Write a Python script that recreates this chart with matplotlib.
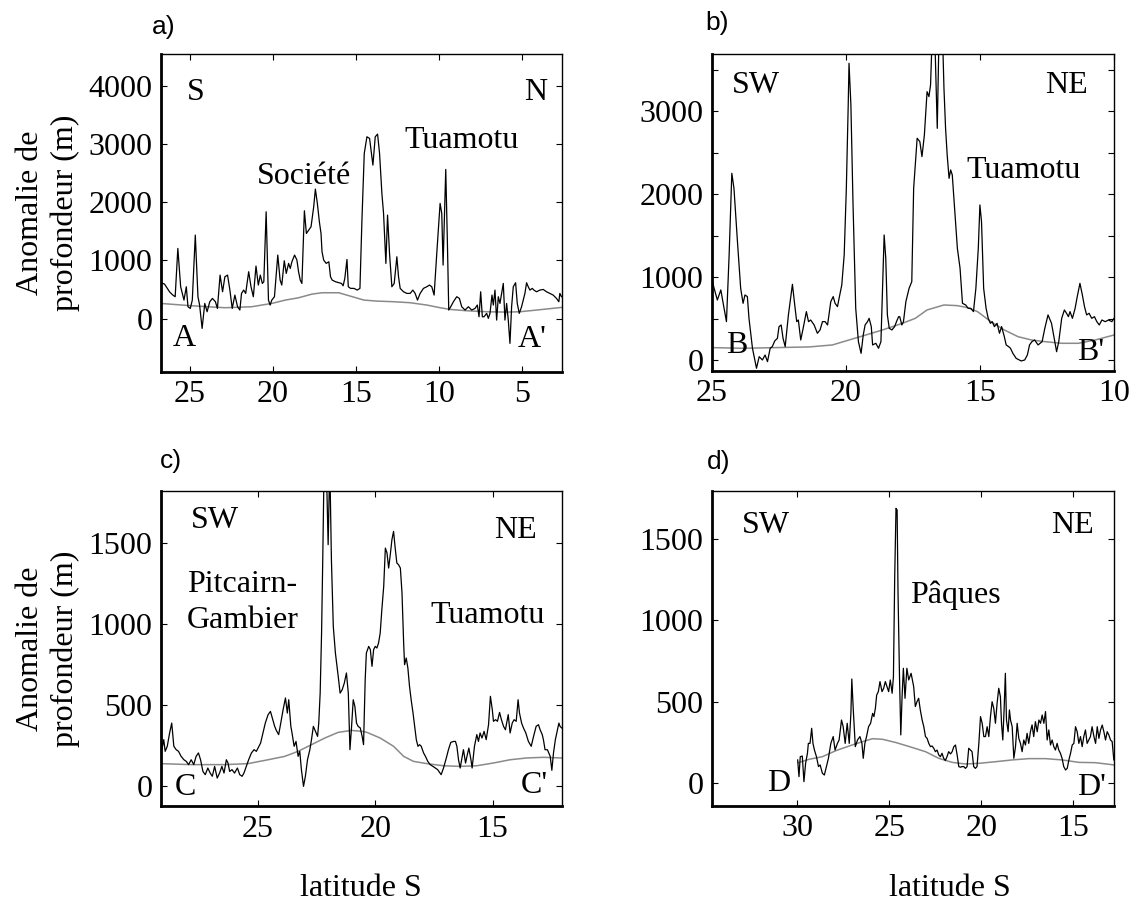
import matplotlib
matplotlib.use("Agg")
import matplotlib.pyplot as plt

# ---------------- data (latitude S, depth anomaly in m) ----------------
a_lat = [26.75, 26.51, 26.21, 26.01, 25.87, 25.71, 25.54, 25.34, 25.20, 25.10, 24.96, 24.84, 24.66,
         24.50, 24.40, 24.25, 24.09, 23.95, 23.79, 23.63, 23.45, 23.33, 23.17, 23.02, 22.88, 22.72,
         22.58, 22.44, 22.28, 22.12, 21.98, 21.88, 21.75, 21.63, 21.45, 21.31, 21.17, 21.01, 20.87,
         20.75, 20.63, 20.54, 20.40, 20.26, 20.16, 20.06, 19.90, 19.70, 19.56, 19.46, 19.31, 19.19,
         19.05, 18.95, 18.85, 18.69, 18.55, 18.45, 18.35, 18.25, 18.10, 17.98, 17.84, 17.70, 17.54,
         17.44, 17.32, 17.20, 17.10, 17.04, 16.94, 16.79, 16.63, 16.53, 16.43, 16.23, 16.03, 15.87,
         15.77, 15.67, 15.54, 15.46, 15.32, 15.12, 14.92, 14.76, 14.64, 14.50, 14.34, 14.18, 13.98,
         13.84, 13.70, 13.58, 13.44, 13.34, 13.20, 13.10, 12.98, 12.84, 12.70, 12.54, 12.44, 12.34,
         12.14, 11.94, 11.74, 11.58, 11.44, 11.30, 11.14, 10.94, 10.74, 10.58, 10.44, 10.30, 10.14,
         9.94, 9.84, 9.76, 9.60, 9.50, 9.42, 9.30, 9.14, 8.94, 8.78, 8.64, 8.44, 8.24, 8.04, 7.84,
         7.70, 7.60, 7.50, 7.40, 7.30, 7.14, 7.04, 6.94, 6.82, 6.74, 6.64, 6.54, 6.44, 6.34, 6.24,
         6.14, 6.04, 5.94, 5.84, 5.74, 5.64, 5.54, 5.40, 5.30, 5.18, 5.04, 4.94, 4.84, 4.74, 4.64,
         4.54, 4.40, 4.30, 4.14, 3.94, 3.74, 3.54, 3.34, 3.14, 2.94, 2.80, 2.74, 2.64]
a_val = [623, 595, 463, 406, 378, 1207, 549, 320, 549, 206, 177, 320, 1436,
         378, 235, -166, 263, 120, 292, 349, 292, 177, 749, 463, 721, 749,
         492, 177, 406, 206, 149, 435, 492, 435, 807, 549, 378, 904, 578,
         749, 606, 635, 1836, 320, 235, 320, 378, 1093, 664, 578, 995, 778,
         950, 864, 978, 1093, 1007, 807, 664, 606, 1853, 1464, 1522, 1579, 1922,
         2225, 1979, 1665, 1464, 1150, 1007, 950, 978, 721, 664, 635, 618, 606,
         566, 692, 1018, 549, 521, 521, 492, 521, 1693, 2837, 3123, 3095, 2637,
         3123, 3169, 2837, 2151, 1808, 950, 1779, 1121, 549, 606, 1064, 721, 521,
         463, 435, 435, 492, 435, 320, 435, 521, 549, 578, 549, 406, 1121,
         1979, 1808, 921, 2563, 1293, 149, 206, 292, 378, 349, 206, 149, 206, 149, 177,
         235, 34, 463, 34, 34, 92, 6, 92, 406, 235, 492, -23, 378, 263, 435,
         606, -23, 263, -23, -423, 206, 549, 618, 263, 92, 206, 320, 435, 618, 549,
         492, 521, 492, 463, 492, 503, 463, 435, 406, 349, 292, 435, 378]
a_ref_lat = [26.75, 24.90, 22.88, 21.27, 20.06, 19.25, 18.45, 17.64, 17.04, 16.03, 15.42, 14.52,
             13.74, 12.74, 11.74, 10.74, 9.94, 9.34, 8.34, 7.14, 5.94, 5.14, 4.14, 2.64]
a_ref_val = [263, 223, 189, 206, 263, 320, 360, 423, 446, 446, 395, 320,
             303, 292, 275, 235, 189, 160, 137, 120, 114, 120, 149, 194]

b_lat = [25.00, 24.91, 24.79, 24.66, 24.54, 24.45, 24.35, 24.25, 24.17, 24.04, 23.92, 23.83, 23.76,
         23.67, 23.61, 23.48, 23.33, 23.23, 23.11, 23.01, 22.92, 22.82, 22.74, 22.65, 22.55, 22.49,
         22.41, 22.34, 22.26, 22.14, 21.99, 21.89, 21.83, 21.77, 21.68, 21.59, 21.47, 21.39, 21.31,
         21.18, 21.06, 20.96, 20.87, 20.77, 20.68, 20.56, 20.47, 20.40, 20.31, 20.25, 20.15, 20.06,
         19.98, 19.91, 19.88, 19.81, 19.73, 19.63, 19.53, 19.43, 19.35, 19.28, 19.19, 19.13, 19.05,
         19.00, 18.88, 18.78, 18.69, 18.63, 18.57, 18.51, 18.45, 18.38, 18.28, 18.18, 18.11, 18.03,
         17.99, 17.91, 17.85, 17.76, 17.64, 17.54, 17.47, 17.34, 17.24, 17.16, 17.07, 16.97, 16.90,
         16.84, 16.77, 16.69, 16.59, 16.52, 16.40, 16.34, 16.28, 16.22, 16.15, 16.09, 16.03, 15.96,
         15.84, 15.74, 15.65, 15.53, 15.44, 15.34, 15.24, 15.15, 15.06, 15.00, 14.94, 14.86, 14.77,
         14.69, 14.61, 14.54, 14.46, 14.36, 14.27, 14.19, 14.09, 14.02, 13.93, 13.86, 13.77, 13.65,
         13.46, 13.33, 13.23, 13.15, 13.06, 12.96, 12.83, 12.68, 12.58, 12.46, 12.33, 12.23, 12.14,
         12.06, 11.95, 11.85, 11.77, 11.70, 11.64, 11.55, 11.45, 11.37, 11.27, 11.18, 11.10, 11.02,
         10.93, 10.83, 10.73, 10.64, 10.55, 10.45, 10.33, 10.20, 10.08, 10.00]
b_val = [989, 868, 727, 848, 627, 466, 1270, 2255, 2074, 1431, 868, 687, 788,
         768, 506, 145, -96, 44, 4, 64, -16, 145, 165, 233, 265, 406,
         426, 265, 165, 547, 916, 627, 466, 486, 245, 386, 587, 466, 486,
         426, 326, 366, 466, 466, 426, 707, 768, 687, 647, 748, 908, 1270,
         2074, 3079, 3581, 3079, 1873, 627, 225, 84, 305, 426, 466, 506, 406,
         185, 205, 145, 225, 868, 1511, 1230, 547, 386, 366, 406, 466, 526,
         526, 426, 466, 707, 868, 948, 2074, 2677, 2637, 2456, 2717, 3239, 3179,
         3320, 4000, 4000, 2797, 4000, 4000, 3280, 2797, 2476, 2194, 2295, 2235, 1913,
         1350, 1109, 687, 667, 627, 627, 587, 868, 1350, 1873, 1672, 868, 627,
         506, 446, 466, 406, 446, 326, 406, 285, 185, 165, 145, 84, 24,
         -8, 4, 64, 185, 225, 245, 185, 225, 386, 547, 446, 265, 104,
         225, 506, 607, 567, 526, 587, 506, 627, 768, 928, 788, 647, 547,
         567, 506, 526, 466, 426, 486, 466, 486, 466, 506]
b_ref_lat = [25.00, 23.86, 22.61, 21.37, 20.50, 19.88, 19.38, 18.63, 17.89, 17.41, 16.97, 16.34,
             15.84, 15.46, 15.09, 14.59, 14.09, 13.58, 13.08, 12.58, 11.95, 11.33, 10.70, 10.00]
b_ref_val = [153, 145, 153, 161, 185, 245, 293, 366, 446, 506, 607, 667,
             659, 635, 587, 466, 366, 285, 245, 225, 205, 205, 245, 305]

c_lat = [29.16, 29.10, 29.02, 28.96, 28.87, 28.77, 28.68, 28.59, 28.49, 28.39, 28.28, 28.16, 28.06,
         27.96, 27.85, 27.74, 27.64, 27.54, 27.45, 27.35, 27.25, 27.14, 27.04, 26.95, 26.85, 26.74,
         26.64, 26.54, 26.45, 26.35, 26.28, 26.21, 26.11, 26.00, 25.88, 25.78, 25.68, 25.60, 25.50,
         25.40, 25.28, 25.17, 25.07, 25.00, 24.89, 24.79, 24.69, 24.57, 24.47, 24.40, 24.29, 24.22,
         24.12, 24.03, 23.93, 23.83, 23.75, 23.69, 23.60, 23.55, 23.46, 23.38, 23.29, 23.22, 23.15,
         23.06, 22.98, 22.89, 22.79, 22.72, 22.64, 22.55, 22.46, 22.41, 22.35, 22.29, 22.24, 22.18,
         22.09, 22.01, 21.94, 21.87, 21.79, 21.70, 21.58, 21.50, 21.41, 21.32, 21.23, 21.15, 21.08,
         21.01, 20.94, 20.87, 20.80, 20.73, 20.64, 20.56, 20.50, 20.43, 20.38, 20.28, 20.21, 20.14,
         20.07, 20.00, 19.93, 19.86, 19.79, 19.72, 19.64, 19.57, 19.50, 19.43, 19.36, 19.29, 19.22,
         19.15, 19.08, 19.01, 18.93, 18.86, 18.79, 18.75, 18.68, 18.61, 18.54, 18.47, 18.39, 18.32,
         18.25, 18.18, 18.11, 18.04, 17.94, 17.86, 17.76, 17.66, 17.54, 17.44, 17.34, 17.26, 17.19,
         17.09, 16.97, 16.88, 16.78, 16.66, 16.58, 16.52, 16.45, 16.38, 16.29, 16.24, 16.15, 16.09,
         16.01, 15.92, 15.87, 15.77, 15.67, 15.60, 15.53, 15.45, 15.36, 15.27, 15.17, 15.09, 15.01,
         14.96, 14.87, 14.79, 14.70, 14.62, 14.53, 14.45, 14.33, 14.25, 14.16, 14.08, 13.99, 13.91,
         13.85, 13.76, 13.68, 13.58, 13.47, 13.35, 13.25, 13.14, 13.04, 12.97, 12.88, 12.83, 12.76,
         12.66, 12.54, 12.47, 12.40, 12.32, 12.26, 12.17, 12.12, 12.05]
c_val = [442, 226, 288, 216, 247, 329, 390, 247, 226, 216, 185, 164, 154,
         134, 164, 134, 185, 206, 164, 92, 72, 113, 82, 62, 123, 51,
         82, 123, 82, 164, 144, 92, 103, 82, 113, 72, 62, 82, 123,
         164, 206, 226, 216, 236, 267, 329, 390, 442, 462, 427, 370, 345,
         319, 390, 473, 545, 452, 534, 370, 329, 247, 277, 185, 216, 103,
         0, 62, 164, 226, 288, 370, 339, 308, 390, 575, 945, 1397, 2000,
         2000, 1490, 2000, 1397, 986, 822, 678, 575, 596, 637, 699, 575, 226,
         370, 534, 493, 390, 370, 360, 308, 257, 658, 822, 863, 843, 740,
         843, 863, 853, 884, 945, 1089, 1233, 1469, 1439, 1346, 1428, 1521, 1572,
         1469, 1377, 1367, 1346, 1192, 884, 750, 791, 730, 617, 534, 452, 370,
         288, 247, 257, 247, 206, 185, 154, 134, 123, 113, 103, 86, 72,
         113, 175, 226, 271, 277, 277, 247, 164, 113, 185, 226, 144, 185,
         236, 164, 113, 247, 319, 277, 329, 298, 339, 288, 380, 555, 473,
         401, 411, 401, 456, 411, 370, 349, 442, 329, 390, 411, 401, 534,
         452, 390, 360, 329, 277, 247, 308, 370, 380, 349, 319, 288, 226,
         226, 185, 99, 206, 288, 329, 390, 370, 360]
c_ref_lat = [29.16, 27.85, 26.42, 25.43, 24.57, 23.86, 23.29, 22.72, 22.15, 21.58, 21.01, 20.56,
             20.36, 19.79, 19.22, 18.79, 18.37, 17.80, 17.09, 16.38, 15.67, 14.96, 14.25, 13.54,
             12.83, 12.05]
c_ref_val = [140, 134, 134, 140, 164, 185, 216, 257, 298, 333, 345, 339,
             333, 298, 247, 185, 154, 140, 127, 123, 127, 144, 164, 175,
             179, 175]

d_lat = [29.98, 29.91, 29.84, 29.73, 29.64, 29.55, 29.45, 29.40, 29.31, 29.22, 29.15, 29.07, 28.96,
         28.85, 28.76, 28.64, 28.53, 28.42, 28.31, 28.18, 28.05, 27.95, 27.82, 27.73, 27.60, 27.51,
         27.40, 27.29, 27.18, 27.09, 27.04, 26.96, 26.85, 26.73, 26.60, 26.49, 26.42, 26.33, 26.24,
         26.13, 26.02, 25.91, 25.84, 25.76, 25.69, 25.60, 25.51, 25.40, 25.31, 25.22, 25.13, 25.04,
         24.95, 24.85, 24.78, 24.71, 24.64, 24.58, 24.53, 24.45, 24.38, 24.31, 24.24, 24.15, 24.05,
         23.95, 23.82, 23.68, 23.59, 23.50, 23.41, 23.32, 23.22, 23.13, 23.04, 22.95, 22.86, 22.77,
         22.68, 22.59, 22.50, 22.41, 22.32, 22.23, 22.14, 22.05, 21.96, 21.87, 21.78, 21.68, 21.59,
         21.50, 21.41, 21.32, 21.23, 21.14, 21.05, 20.96, 20.87, 20.78, 20.69, 20.60, 20.51, 20.42,
         20.33, 20.24, 20.14, 20.05, 19.96, 19.87, 19.78, 19.69, 19.60, 19.51, 19.42, 19.33, 19.24,
         19.15, 19.06, 18.97, 18.91, 18.84, 18.77, 18.70, 18.64, 18.55, 18.48, 18.42, 18.33, 18.24,
         18.15, 18.06, 17.97, 17.88, 17.79, 17.70, 17.61, 17.52, 17.43, 17.34, 17.25, 17.16, 17.07,
         16.97, 16.88, 16.79, 16.70, 16.61, 16.52, 16.43, 16.34, 16.25, 16.16, 16.07, 15.98, 15.89,
         15.80, 15.71, 15.62, 15.53, 15.43, 15.34, 15.25, 15.16, 15.07, 14.98, 14.89, 14.80, 14.71,
         14.62, 14.53, 14.44, 14.35, 14.26, 14.17, 14.08, 13.99, 13.89, 13.80, 13.71, 13.62, 13.53,
         13.44, 13.35, 13.26, 13.17, 13.08, 12.99, 12.90, 12.81]
d_val = [140, 37, 160, 164, 6, 119, 181, 242, 242, 335, 242, 201, 160,
         99, 109, 58, 47, 99, 150, 242, 284, 201, 242, 263, 386, 345,
         242, 366, 242, 427, 639, 448, 222, 263, 284, 242, 150, 242, 284,
         345, 366, 427, 407, 458, 540, 561, 623, 561, 582, 623, 592, 561,
         633, 551, 653, 1270, 1691, 1681, 1167, 653, 294, 530, 705, 520, 705,
         633, 674, 592, 469, 499, 520, 448, 386, 345, 284, 273, 242, 222,
         226, 212, 191, 201, 171, 160, 181, 150, 136, 160, 191, 177, 191,
         222, 232, 171, 99, 95, 99, 99, 88, 99, 212, 201, 191, 99,
         88, 99, 242, 407, 366, 284, 284, 345, 284, 407, 499, 458, 366,
         489, 582, 530, 366, 263, 448, 674, 386, 314, 448, 386, 345, 150,
         222, 366, 273, 242, 191, 263, 232, 304, 242, 314, 356, 284, 376,
         314, 386, 366, 417, 366, 438, 263, 325, 232, 263, 222, 201, 242,
         201, 181, 150, 99, 78, 88, 140, 181, 232, 242, 345, 314, 242,
         284, 222, 284, 325, 242, 263, 284, 345, 284, 242, 345, 273, 325,
         355, 314, 263, 314, 294, 263, 253, 140]
d_ref_lat = [29.95, 29.36, 28.64, 27.91, 27.18, 26.45, 25.91, 25.36, 24.64, 23.91, 23.04, 22.32,
             21.59, 20.87, 20.14, 19.24, 18.33, 17.43, 16.52, 15.62, 14.71, 13.80, 12.79]
d_ref_val = [123, 144, 160, 197, 226, 253, 271, 267, 247, 222, 191, 150,
             125, 115, 119, 129, 140, 148, 148, 140, 125, 123, 109]

# ---------------- figure ----------------
W, H = 1137, 902
fig = plt.figure(figsize=(W / 100, H / 100), dpi=100)
SERIF = "Liberation Serif"
SANS = "Liberation Sans"
FS = 23


def px_axes(l, t, r, b):
    return fig.add_axes([l / W, 1 - b / H, (r - l) / W, (b - t) / H])


def style(ax, xlim, ylim, xticks, yticks, ylabels=None):
    ax.set_xlim(*xlim)
    ax.set_ylim(*ylim)
    ax.set_xticks(xticks)
    ax.set_xticklabels([str(t) for t in xticks], fontfamily=SERIF, fontsize=FS)
    ax.set_yticks(yticks)
    if ylabels is None:
        ylabels = [str(t) for t in yticks]
    ax.set_yticklabels(ylabels, fontfamily=SERIF, fontsize=FS)
    ax.tick_params(direction="in", length=4, width=0.8, top=True, right=True, pad=6)
    ax.spines["left"].set_linewidth(2.0)
    ax.spines["bottom"].set_linewidth(2.0)
    ax.spines["top"].set_linewidth(1.0)
    ax.spines["right"].set_linewidth(1.0)


def txt(ax, x, y, s, **kw):
    ax.text(x, y, s, transform=ax.transAxes, fontfamily=SERIF, fontsize=FS,
            ha="center", va="center", **kw)


BLACK = dict(color="black", lw=0.9)
GREY = dict(color="#8a8a8a", lw=1.1)

# panel a
ax = px_axes(160.7, 54, 562, 371.7)
ax.plot(a_ref_lat, a_ref_val, **GREY)
ax.plot(a_lat, a_val, **BLACK)
style(ax, (26.74, 2.61), (-909, 4544), [25, 20, 15, 10, 5], [0, 1000, 2000, 3000, 4000])
txt(ax, 0.088, 0.879, "S")
txt(ax, 0.934, 0.879, "N")
txt(ax, 0.059, 0.105, "A")
txt(ax, 0.925, 0.100, "A'")
txt(ax, 0.357, 0.613, "Société")
txt(ax, 0.750, 0.729, "Tuamotu")

# panel b
ax = px_axes(711.7, 54, 1114, 371)
ax.plot(b_ref_lat, b_ref_val, **GREY)
ax.plot(b_lat, b_val, **BLACK)
byt = [0, 500, 1000, 1500, 2000, 2500, 3000, 3500]
style(ax, (25, 10), (-129, 3693), [25, 20, 15, 10], byt,
      [str(t) if t % 1000 == 0 and t < 3500 else "" for t in byt])
txt(ax, 0.111, 0.900, "SW")
txt(ax, 0.881, 0.901, "NE")
txt(ax, 0.062, 0.080, "B")
txt(ax, 0.943, 0.059, "B'")
txt(ax, 0.776, 0.634, "Tuamotu")

# panel c
ax = px_axes(160.7, 491, 561.7, 806.3)
ax.plot(c_ref_lat, c_ref_val, **GREY)
ax.plot(c_lat, c_val, **BLACK)
style(ax, (29.15, 12.05), (-123, 1821), [25, 20, 15], [0, 500, 1000, 1500])
txt(ax, 0.135, 0.907, "SW")
txt(ax, 0.884, 0.875, "NE")
txt(ax, 0.062, 0.060, "C")
txt(ax, 0.932, 0.066, "C'")
ax.text(0.066, 0.646, "Pitcairn-\nGambier", transform=ax.transAxes, fontfamily=SERIF,
        fontsize=FS, ha="left", va="center", linespacing=1.3)
txt(ax, 0.815, 0.604, "Tuamotu")
ax.set_xlabel("latitude S", fontfamily=SERIF, fontsize=FS, labelpad=22)

# panel d
ax = px_axes(711.7, 491, 1114, 806)
ax.plot(d_ref_lat, d_ref_val, **GREY)
ax.plot(d_lat, d_val, **BLACK)
style(ax, (34.65, 12.8), (-144, 1798), [30, 25, 20, 15], [0, 500, 1000, 1500])
txt(ax, 0.136, 0.892, "SW")
txt(ax, 0.898, 0.892, "NE")
txt(ax, 0.167, 0.070, "D")
txt(ax, 0.943, 0.060, "D'")
txt(ax, 0.605, 0.670, "Pâques")
fig.text(950 / W, 1 - 888 / H, "latitude S", fontfamily=SERIF, fontsize=FS,
         ha="center", va="center")

# y labels
for yc in (212.8, 648.6):
    fig.text(48 / W, 1 - yc / H, "Anomalie de\nprofondeur (m)", rotation=90,
             fontfamily=SERIF, fontsize=FS, ha="center", va="center",
             multialignment="center", linespacing=1.25)

# panel letters
for s, x, y in (("a)", 152, 27), ("b)", 705, 23), ("c)", 160, 461), ("d)", 707, 462)):
    fig.text(x / W, 1 - y / H, s, fontfamily=SANS, fontsize=19, ha="left", va="center")

fig.savefig("out.png", dpi=100)
